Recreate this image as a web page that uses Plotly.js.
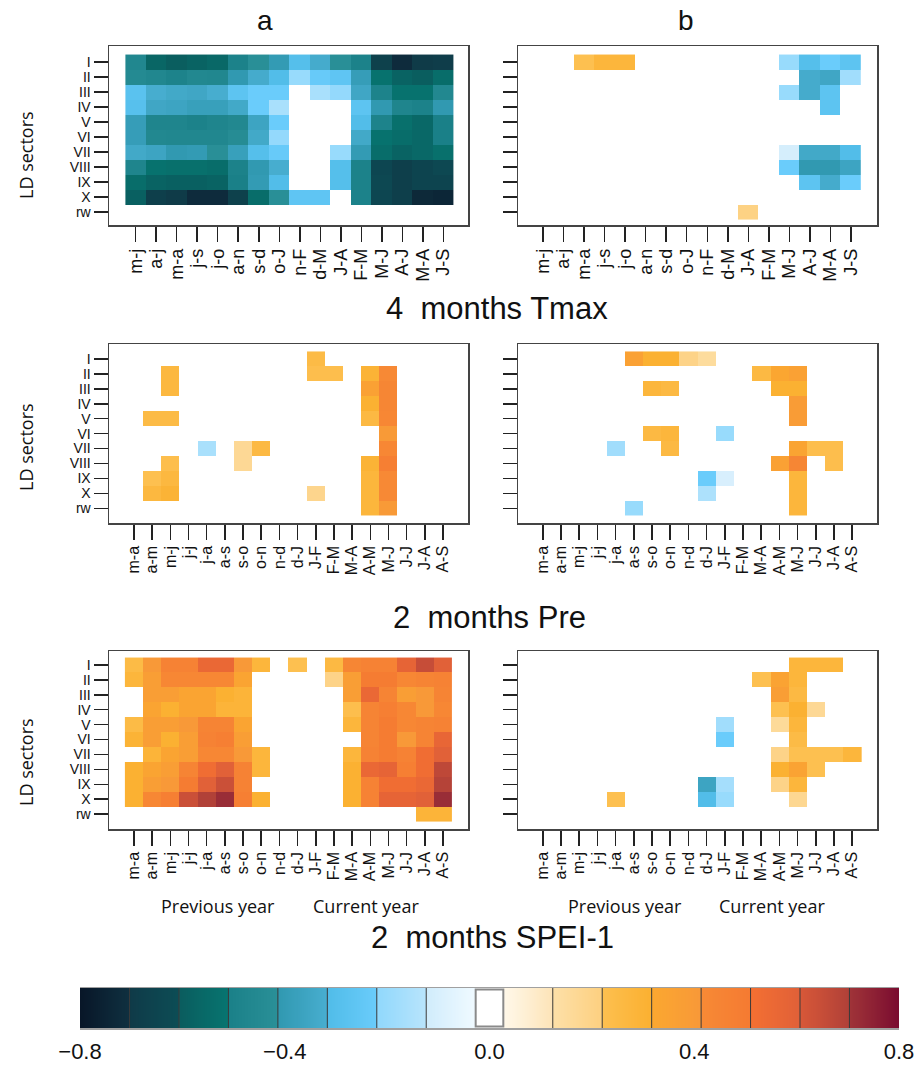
<!DOCTYPE html>
<html>
<head>
<meta charset="utf-8">
<script src="https://cdn.plot.ly/plotly-3.0.1.min.js"></script>
<style>html,body{margin:0;padding:0;background:#fff;}#chart{width:917px;height:1065px;}</style>
</head>
<body>
<div id="chart"></div>
<script>
const _ = null;
const sectors = ['I','II','III','IV','V','VI','VII','VIII','IX','X','rw'];
const tmaxMonths = ['m-j','a-j','m-a','j-s','j-o','a-n','s-d','o-J','n-F','d-M','J-A','F-M','M-J','A-J','M-A','J-S'];
const twoMonths = ['m-a','a-m','m-j','j-j','j-a','a-s','s-o','o-n','n-d','d-J','J-F','F-M','M-A','A-M','M-J','J-J','J-A','A-S'];

const tmaxA = [
  [-0.47,-0.57,-0.60,-0.58,-0.56,-0.50,-0.42,-0.40,-0.30,-0.33,-0.42,-0.50,-0.67,-0.72,-0.70,-0.69],
  [-0.45,-0.47,-0.49,-0.46,-0.47,-0.41,-0.33,-0.31,-0.20,-0.23,-0.26,-0.39,-0.52,-0.58,-0.60,-0.54],
  [-0.28,-0.32,-0.34,-0.35,-0.32,-0.27,-0.22,-0.22,_,-0.16,-0.21,-0.35,-0.49,-0.52,-0.52,-0.46],
  [-0.29,-0.35,-0.36,-0.38,-0.38,-0.34,-0.22,-0.16,_,_,_,-0.27,-0.41,-0.48,-0.50,-0.41],
  [-0.39,-0.48,-0.48,-0.50,-0.48,-0.46,-0.36,-0.22,_,_,_,-0.31,-0.49,-0.53,-0.56,-0.51],
  [-0.39,-0.46,-0.47,-0.47,-0.47,-0.44,-0.34,-0.21,_,_,_,-0.34,-0.52,-0.54,-0.56,-0.51],
  [-0.34,-0.36,-0.41,-0.40,-0.42,-0.38,-0.30,-0.23,_,_,-0.20,-0.40,-0.54,-0.58,-0.56,-0.53],
  [-0.48,-0.52,-0.53,-0.53,-0.54,-0.50,-0.41,-0.32,_,_,-0.30,-0.50,-0.64,-0.68,-0.65,-0.63],
  [-0.54,-0.58,-0.59,-0.59,-0.58,-0.51,-0.40,-0.31,_,_,-0.30,-0.50,-0.63,-0.68,-0.65,-0.65],
  [-0.59,-0.68,-0.70,-0.72,-0.72,-0.67,-0.54,-0.42,-0.26,-0.26,_,-0.50,-0.64,-0.68,-0.73,-0.74],
  [_,_,_,_,_,_,_,_,_,_,_,_,_,_,_,_]
];
const tmaxB = [
  [_,_,0.22,0.28,0.28,_,_,_,_,_,_,_,-0.20,-0.30,-0.22,-0.27],
  [_,_,_,_,_,_,_,_,_,_,_,_,_,-0.33,-0.35,-0.18],
  [_,_,_,_,_,_,_,_,_,_,_,_,-0.20,-0.33,-0.27,_],
  [_,_,_,_,_,_,_,_,_,_,_,_,_,_,-0.27,_],
  [_,_,_,_,_,_,_,_,_,_,_,_,_,_,_,_],
  [_,_,_,_,_,_,_,_,_,_,_,_,_,_,_,_],
  [_,_,_,_,_,_,_,_,_,_,_,_,-0.11,-0.34,-0.34,-0.31],
  [_,_,_,_,_,_,_,_,_,_,_,_,-0.22,-0.41,-0.41,-0.36],
  [_,_,_,_,_,_,_,_,_,_,_,_,_,-0.27,-0.33,-0.22],
  [_,_,_,_,_,_,_,_,_,_,_,_,_,_,_,_],
  [_,_,_,_,_,_,_,_,_,_,0.21,_,_,_,_,_]
];
const preA = [
  [_,_,_,_,_,_,_,_,_,_,0.25,_,_,_,_,_,_,_],
  [_,_,0.27,_,_,_,_,_,_,_,0.23,0.23,_,0.30,0.42,_,_,_],
  [_,_,0.27,_,_,_,_,_,_,_,_,_,_,0.36,0.44,_,_,_],
  [_,_,_,_,_,_,_,_,_,_,_,_,_,0.31,0.44,_,_,_],
  [_,0.25,0.25,_,_,_,_,_,_,_,_,_,_,0.26,0.43,_,_,_],
  [_,_,_,_,_,_,_,_,_,_,_,_,_,_,0.40,_,_,_],
  [_,_,_,_,-0.16,_,0.17,0.26,_,_,_,_,_,_,0.43,_,_,_],
  [_,_,0.23,_,_,_,0.17,_,_,_,_,_,_,0.30,0.48,_,_,_],
  [_,0.22,0.27,_,_,_,_,_,_,_,_,_,_,0.28,0.42,_,_,_],
  [_,0.27,0.30,_,_,_,_,_,_,_,0.19,_,_,0.28,0.42,_,_,_],
  [_,_,_,_,_,_,_,_,_,_,_,_,_,0.28,0.40,_,_,_]
];
const preB = [
  [_,_,_,_,_,0.36,0.31,0.31,0.20,0.15,_,_,_,_,_,_,_,_],
  [_,_,_,_,_,_,_,_,_,_,_,_,0.26,0.33,0.36,_,_,_],
  [_,_,_,_,_,_,0.28,0.26,_,_,_,_,_,0.31,0.31,_,_,_],
  [_,_,_,_,_,_,_,_,_,_,_,_,_,_,0.39,_,_,_],
  [_,_,_,_,_,_,_,_,_,_,_,_,_,_,0.39,_,_,_],
  [_,_,_,_,_,_,0.26,0.28,_,_,-0.20,_,_,_,_,_,_,_],
  [_,_,_,_,-0.18,_,_,0.26,_,_,_,_,_,_,0.34,0.23,0.23,_],
  [_,_,_,_,_,_,_,_,_,_,_,_,_,0.36,0.44,_,0.23,_],
  [_,_,_,_,_,_,_,_,_,-0.22,-0.10,_,_,_,0.28,_,_,_],
  [_,_,_,_,_,_,_,_,_,-0.15,_,_,_,_,0.28,_,_,_],
  [_,_,_,_,_,-0.20,_,_,_,_,_,_,_,_,0.28,_,_,_]
];
const speiA = [
  [0.25,0.41,0.46,0.46,0.56,0.56,0.41,0.28,_,0.22,_,0.26,0.44,0.46,0.46,0.58,0.65,0.60],
  [0.28,0.38,0.43,0.43,0.43,0.43,0.34,_,_,_,_,0.20,0.38,0.50,0.50,0.43,0.45,0.46],
  [_,0.38,0.38,0.34,0.34,0.31,0.29,_,_,_,_,_,0.38,0.56,0.45,0.38,0.41,0.45],
  [_,0.34,0.31,0.34,0.34,0.29,0.29,_,_,_,_,_,0.23,0.45,0.48,0.43,0.41,0.43],
  [0.25,0.38,0.38,0.41,0.45,0.45,0.34,_,_,_,_,_,0.28,0.45,0.50,0.43,0.45,0.46],
  [0.30,0.38,0.31,0.38,0.46,0.48,0.38,_,_,_,_,_,_,0.45,0.50,0.41,0.45,0.57],
  [_,0.29,0.34,0.38,0.43,0.43,0.41,0.28,_,_,_,_,0.28,0.46,0.50,0.46,0.53,0.60],
  [0.31,0.34,0.38,0.45,0.53,0.60,0.46,0.28,_,_,_,_,0.31,0.56,0.58,0.48,0.53,0.67],
  [0.31,0.38,0.41,0.50,0.60,0.64,0.46,_,_,_,_,_,0.31,0.46,0.53,0.53,0.56,0.69],
  [0.31,0.43,0.48,0.64,0.70,0.72,0.48,0.31,_,_,_,_,0.31,0.46,0.58,0.58,0.60,0.72],
  [_,_,_,_,_,_,_,_,_,_,_,_,_,_,_,_,0.29,0.29]
];
const speiB = [
  [_,_,_,_,_,_,_,_,_,_,_,_,_,_,0.28,0.28,0.28,_],
  [_,_,_,_,_,_,_,_,_,_,_,_,0.22,0.35,0.28,_,_,_],
  [_,_,_,_,_,_,_,_,_,_,_,_,_,0.38,0.26,_,_,_],
  [_,_,_,_,_,_,_,_,_,_,_,_,_,0.22,0.31,0.17,_,_],
  [_,_,_,_,_,_,_,_,_,_,-0.18,_,_,0.16,0.28,_,_,_],
  [_,_,_,_,_,_,_,_,_,_,-0.22,_,_,_,0.25,_,_,_],
  [_,_,_,_,_,_,_,_,_,_,_,_,_,0.20,0.22,0.22,0.22,0.28],
  [_,_,_,_,_,_,_,_,_,_,_,_,_,0.31,0.35,0.22,_,_],
  [_,_,_,_,_,_,_,_,_,-0.36,-0.17,_,_,0.20,0.28,_,_,_],
  [_,_,_,_,0.22,_,_,_,_,-0.31,-0.20,_,_,_,0.18,_,_,_],
  [_,_,_,_,_,_,_,_,_,_,_,_,_,_,_,_,_,_]
];
const colorTicks = [-0.8, -0.4, 0, 0.4, 0.8];
const colorTickText = ['\u22120.8', '\u22120.4', '0.0', '0.4', '0.8'];

// colour stops in data units
const stops = [
  [-0.800,'#081628'],[-0.703,'#0f3040'],
  [-0.703,'#0f3a48'],[-0.607,'#0c4d55'],
  [-0.607,'#0a5c5e'],[-0.510,'#077570'],
  [-0.510,'#1a8088'],[-0.413,'#2a9098'],
  [-0.413,'#3098b0'],[-0.317,'#48aed0'],
  [-0.317,'#50bce8'],[-0.220,'#6accfb'],
  [-0.220,'#90d8fc'],[-0.124,'#b8e4fc'],
  [-0.124,'#d0ecfc'],[-0.027,'#f0faff'],
  [-0.027,'#ffffff'],[0.027,'#ffffff'],
  [0.027,'#fff8ea'],[0.124,'#fde4b8'],
  [0.124,'#fde0a8'],[0.220,'#fdd080'],
  [0.220,'#fdc050'],[0.317,'#fbb030'],
  [0.317,'#fba830'],[0.413,'#f89838'],
  [0.413,'#f78a35'],[0.510,'#f57a32'],
  [0.510,'#f47032'],[0.607,'#e06038'],
  [0.607,'#d85838'],[0.703,'#b04038'],
  [0.703,'#a03438'],[0.800,'#7a0c30']
];
const cscale = stops.map(s => [(s[0] + 0.8) / 1.6, s[1]]);

const W = 917, H = 1065;
const px = v => v / W;
const py = v => 1 - v / H;

const panels = [
  {z: tmaxA, labels: tmaxMonths, box: [109, 468, 46, 225], xr: [-1.3, 16.2], yr: [10.87, -1.07], ylab: true, fs: 18},
  {z: tmaxB, labels: tmaxMonths, box: [518, 877, 46, 225], xr: [-1.22, 16.27], yr: [10.87, -1.07], ylab: false, fs: 18},
  {z: preA, labels: twoMonths, box: [109, 468, 344, 523], xr: [-1.375, 18.375], yr: [10.98, -1.0], ylab: true, fs: 16},
  {z: preB, labels: twoMonths, box: [518, 877, 344, 523], xr: [-1.36, 18.36], yr: [10.98, -1.0], ylab: false, fs: 16},
  {z: speiA, labels: twoMonths, box: [109, 468, 651, 829], xr: [-1.375, 18.375], yr: [11.0, -0.94], ylab: true, fs: 16},
  {z: speiB, labels: twoMonths, box: [518, 877, 651, 829], xr: [-1.36, 18.36], yr: [11.0, -0.94], ylab: false, fs: 16}
];

const traces = [];
const layout = {
  width: W, height: H,
  margin: {l: 0, r: 0, t: 0, b: 0},
  paper_bgcolor: '#fff', plot_bgcolor: 'rgba(0,0,0,0)',
  showlegend: false,
  annotations: [], shapes: []
};

panels.forEach((p, i) => {
  const k = i + 1;
  const sfx = k === 1 ? '' : String(k);
  const xs = p.labels.map((_, j) => j);
  const ys = sectors.map((_, j) => j);
  traces.push({
    type: 'heatmap', z: p.z, x: xs, y: ys,
    xaxis: 'x' + sfx, yaxis: 'y' + sfx,
    colorscale: cscale, zmin: -0.8, zmax: 0.8,
    showscale: false, hoverinfo: 'skip', xgap: 0, ygap: 0
  });
  layout['xaxis' + sfx] = {
    domain: [px(p.box[0]), px(p.box[1])], range: p.xr, anchor: 'y' + sfx,
    tickmode: 'array', tickvals: xs, ticktext: p.labels, tickangle: -90,
    ticks: 'outside', ticklen: 15, tickwidth: 1.5, tickcolor: '#222',
    showgrid: false, zeroline: false, showline: true, mirror: true,
    linecolor: '#444', linewidth: 1.5,
    tickfont: {family: 'Liberation Sans, Arial, sans-serif', size: p.fs, color: '#111'},
    fixedrange: true
  };
  layout['yaxis' + sfx] = {
    domain: [py(p.box[3]), py(p.box[2])], range: p.yr, anchor: 'x' + sfx,
    tickmode: 'array', tickvals: ys, ticktext: sectors, showticklabels: p.ylab,
    ticks: 'outside', ticklen: 14, tickwidth: 1.5, tickcolor: '#222',
    showgrid: false, zeroline: false, showline: true, mirror: true,
    linecolor: '#444', linewidth: 1.5,
    tickfont: {family: 'Liberation Sans Narrow, Liberation Sans, Arial, sans-serif', size: 14, color: '#111'},
    fixedrange: true
  };
});

// colour key drawn as its own small axis, sampled along the scale
const cbLeft = 80, cbRight = 899, cbTop = 988, cbBot = 1028;
const keyVals = [];
for (let j = 0; j <= 800; j++) keyVals.push(-0.8 + j * 0.002);
traces.push({
  type: 'heatmap', z: [keyVals], x: keyVals, y: [0],
  xaxis: 'x7', yaxis: 'y7', colorscale: cscale, zmin: -0.8, zmax: 0.8,
  showscale: false, hoverinfo: 'skip'
});
layout.xaxis7 = {
  domain: [px(cbLeft), px(cbRight)], range: [-0.8, 0.8], anchor: 'y7',
  tickmode: 'array', tickvals: colorTicks, ticktext: colorTickText,
  ticks: 'outside', ticklen: 3, tickcolor: 'rgba(0,0,0,0)',
  ticklabeloverflow: 'allow',
  showgrid: false, zeroline: false, showline: true, mirror: true,
  linecolor: '#a0a0a0', linewidth: 1.5,
  tickfont: {family: 'Liberation Sans, Arial, sans-serif', size: 22, color: '#111'},
  fixedrange: true
};
layout.yaxis7 = {
  domain: [py(cbBot), py(cbTop)], range: [-0.5, 0.5], anchor: 'x7',
  showticklabels: false, ticks: '', showgrid: false, zeroline: false, showline: false,
  fixedrange: true
};
const bounds = [];
for (let j = 1; j <= 7; j++) { bounds.push(-(0.027 + j * 0.0966)); bounds.push(0.027 + j * 0.0966); }
bounds.forEach(b => {
  layout.shapes.push({type: 'line', xref: 'x7', yref: 'y7', x0: b, x1: b, y0: -0.5, y1: 0.5,
    line: {color: '#3a3a3a', width: 1}});
});
layout.shapes.push({type: 'rect', xref: 'x7', yref: 'y7', x0: -0.027, x1: 0.027, y0: -0.46, y1: 0.46,
  fillcolor: 'rgba(255,255,255,0)', line: {color: '#8a8a8a', width: 2}});

const ann = (text, x, y, size, family, extra) => Object.assign({
  text: text, x: px(x), y: py(y), xref: 'paper', yref: 'paper',
  xanchor: 'center', yanchor: 'middle', showarrow: false,
  font: {family: family, size: size, color: '#111'}
}, extra || {});
const arial = 'Liberation Sans, Arial, sans-serif';
const open = 'Open Sans, Noto Sans, sans-serif';
layout.annotations.push(
  ann('a', 265, 21, 28, arial),
  ann('b', 686, 21, 28, arial),
  ann('4\u00a0 months Tmax', 497, 308, 31, arial),
  ann('2\u00a0 months Pre', 489, 617, 31, arial),
  ann('2\u00a0 months SPEI-1', 493, 937, 31, arial),
  ann('Previous year', 218, 906, 18, open),
  ann('Current year', 366, 906, 18, open),
  ann('Previous year', 625, 906, 18, open),
  ann('Current year', 772, 906, 18, open),
  ann('LD sectors', 26, 155, 18, open, {textangle: -90}),
  ann('LD sectors', 26, 447, 18, open, {textangle: -90}),
  ann('LD sectors', 26, 762, 18, open, {textangle: -90})
);

Plotly.newPlot('chart', traces, layout, {staticPlot: true, displayModeBar: false});
</script>
</body>
</html>
